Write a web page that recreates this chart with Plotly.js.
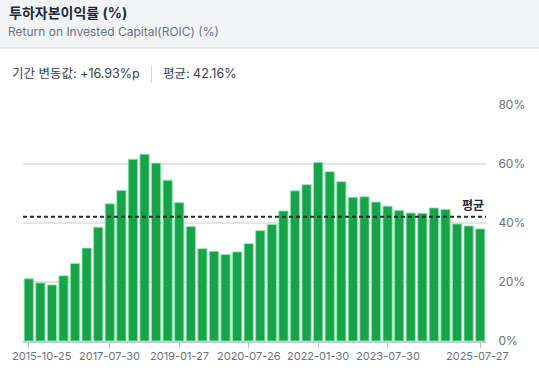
<!DOCTYPE html>
<html>
<head>
<meta charset="utf-8">
<script src="https://cdn.plot.ly/plotly-3.0.1.min.js"></script>
<style>
html,body{margin:0;padding:0;background:#fff;}
#chart{width:539px;height:374px;}
</style>
</head>
<body>
<div id="chart"></div>
<script>
const dates = [
"2015-10-25","2016-01-31","2016-05-01","2016-07-31","2016-10-30","2017-01-29","2017-04-30","2017-07-30",
"2017-10-29","2018-01-28","2018-04-29","2018-07-29","2018-10-28","2019-01-27","2019-04-28","2019-07-28",
"2019-10-27","2020-01-26","2020-04-26","2020-07-26","2020-10-25","2021-01-31","2021-05-02","2021-08-01",
"2021-10-31","2022-01-30","2022-05-01","2022-07-31","2022-10-30","2023-01-29","2023-04-30","2023-07-30",
"2023-10-29","2024-01-28","2024-04-28","2024-07-28","2024-10-27","2025-01-26","2025-04-27","2025-07-27"
];
const roic = [
21.1,19.7,19.0,22.1,26.3,31.5,38.6,46.5,51.0,61.6,
63.3,60.3,54.5,46.9,38.8,31.3,30.4,29.3,30.2,33.0,
37.4,39.5,44.1,50.9,53.0,60.5,57.4,54.0,48.7,48.9,
47.1,45.7,44.2,43.4,43.3,45.1,44.6,39.7,39.0,38.0
];
const tickDates = ["2015-10-25","2017-07-30","2019-01-27","2020-07-26","2022-01-30","2023-07-30","2025-07-27"];
const yTicks = [0,20,40,60,80];
const yTickText = ["0%","20%","40%","60%","80%"];
const average = 42.16;
const changeText = "+16.93%p";
const titleText = "투하자본이익률 (%)";
const subtitleText = "Return on Invested Capital(ROIC) (%)";
const avgLabel = "평균";

// plot area in pixels
const L = 23, R = 486, T = 105, B = 341;
const W = 539, H = 374;
const px = x => (x - L) / (R - L);
const py = y => (B - y) / (B - T);

const FONT = "Inter, 'Noto Sans CJK KR', sans-serif";
const KFONT = "Inter, 'Noto Sans CJK KR', sans-serif";

const trace = {
  type: "bar",
  x: dates,
  y: roic,
  marker: {color: "#18a34a", line: {color: "rgba(134,239,172,0.85)", width: 1}},
  hoverinfo: "x+y",
  showlegend: false
};

const annotations = [
  {xref:"paper", yref:"paper", x:px(7), y:py(13), xanchor:"left", yanchor:"middle", showarrow:false,
   text:"<b>"+titleText+"</b>", font:{family:KFONT, size:14, color:"#1f2937"}},
  {xref:"paper", yref:"paper", x:px(6), y:py(32), xanchor:"left", yanchor:"middle", showarrow:false,
   text:subtitleText, font:{family:FONT, size:12, color:"#6b7280"}},
  {xref:"paper", yref:"paper", x:px(10), y:py(74), xanchor:"left", yanchor:"middle", showarrow:false,
   text:"기간 변동값: " + changeText, font:{family:KFONT, size:12.5, color:"#374151"}},
  {xref:"paper", yref:"paper", x:px(161), y:py(74), xanchor:"left", yanchor:"middle", showarrow:false,
   text:avgLabel + ": " + average.toFixed(2) + "%", font:{family:KFONT, size:12.5, color:"#374151"}},
  {xref:"paper", yref:"y", x:1, y:average, xanchor:"right", yanchor:"bottom", yshift:2, showarrow:false,
   text:"<b>"+avgLabel+"</b>", font:{family:KFONT, size:12, color:"#1f2937"}}
];
tickDates.forEach((d,i) => {
  annotations.push({
    xref:"x", yref:"paper", x:d, y:py(355.5), xanchor:"center", yanchor:"middle", showarrow:false,
    xshift: i === 0 ? 13 : (i === tickDates.length - 1 ? -3 : 0),
    borderpad:0,
    text:d, font:{family:FONT, size:11, color:"#6b7280"}
  });
});

const shapes = [
  {type:"rect", xref:"paper", yref:"paper", x0:px(0), x1:px(W), y0:py(48), y1:py(0),
   fillcolor:"#f3f4f6", line:{width:0}, layer:"below"},
  {type:"line", xref:"paper", yref:"paper", x0:px(0), x1:px(W), y0:py(48), y1:py(48),
   line:{color:"#d5d8dd", width:1.2}},
  {type:"line", xref:"paper", yref:"paper", x0:px(151.5), x1:px(151.5), y0:py(66), y1:py(83),
   line:{color:"#d1d5db", width:1}},
  {type:"line", xref:"paper", yref:"y", x0:0, x1:1, y0:average, y1:average,
   line:{color:"#1f2937", width:2, dash:"4px,3px"}, layer:"above"}
];

const layout = {
  width: W, height: H,
  margin: {l: L, r: W - R, t: T, b: H - B, pad: 0},
  paper_bgcolor: "#ffffff",
  plot_bgcolor: "#ffffff",
  font: {family: FONT, color: "#6b7280"},
  bargap: 0.2,
  xaxis: {
    type: "category",
    range: [-0.5, dates.length - 0.5],
    showgrid: false, zeroline: false,
    showline: true, linecolor: "#c9cdd3", linewidth: 1.5,
    ticks: "outside", ticklen: 5, tickcolor: "#b8bdc5", tickwidth: 1,
    tickvals: tickDates, showticklabels: false,
    fixedrange: true
  },
  yaxis: {
    side: "right",
    range: [0, 80],
    tickvals: yTicks, ticktext: yTickText,
    showgrid: true, gridcolor: "#e2e4e8", gridwidth: 1.2,
    zeroline: false, showline: false,
    ticks: "outside", ticklen: 9, tickcolor: "rgba(0,0,0,0)",
    tickfont: {family: FONT, size: 12, color: "#6b7280"},
    fixedrange: true
  },
  shapes: shapes,
  annotations: annotations
};

Plotly.newPlot("chart", [trace], layout, {displayModeBar: false, staticPlot: true});
</script>
</body>
</html>
